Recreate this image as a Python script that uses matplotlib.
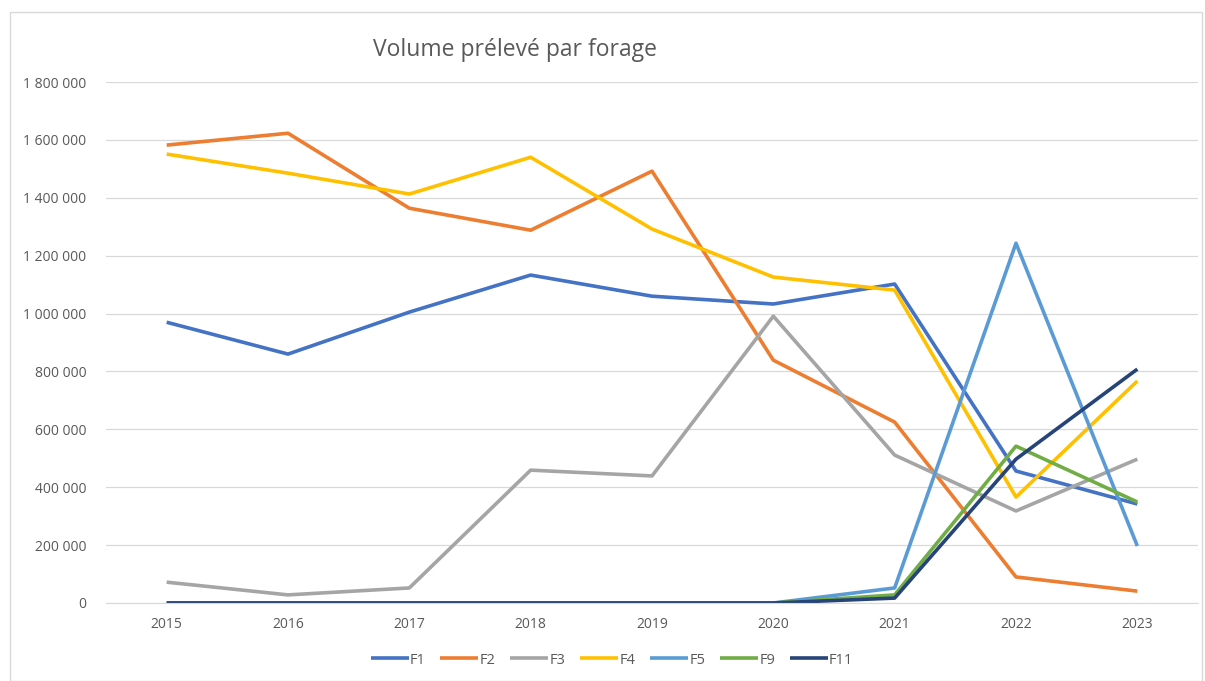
import matplotlib
matplotlib.use("Agg")
import matplotlib.pyplot as plt
import matplotlib.patches as patches
from matplotlib.ticker import FuncFormatter

plt.rcParams['font.family'] = ['Open Sans', 'DejaVu Sans']

years = ['2015', '2016', '2017', '2018', '2019', '2020', '2021', '2022', '2023']
f1 = [970000, 860000, 1005000, 1133000, 1060000, 1033000, 1102000, 456000, 342000]
f2 = [1582000, 1623000, 1364000, 1288000, 1492000, 839000, 625000, 90000, 41000]
f3 = [72000, 28000, 52000, 459000, 439000, 991000, 511000, 318000, 497000]
f4 = [1551000, 1485000, 1413000, 1540000, 1292000, 1126000, 1081000, 366000, 767000]
f5 = [0, 0, 0, 0, 0, 0, 52000, 1243000, 197000]
f9 = [0, 0, 0, 0, 0, 0, 28000, 542000, 349000]
f11 = [0, 0, 0, 0, 0, 0, 17000, 497000, 808000]

series = [('F1', f1, '#4472C4'), ('F2', f2, '#ED7D31'), ('F3', f3, '#A5A5A5'),
          ('F4', f4, '#FFC000'), ('F5', f5, '#5B9BD5'), ('F9', f9, '#70AD47'),
          ('F11', f11, '#264478')]

fig = plt.figure(figsize=(12.05, 6.81), dpi=100)
fig.patch.set_facecolor('white')

# chart border
border = patches.Rectangle((10/1205, 0), 1192/1205, 1 - 12/681, transform=fig.transFigure,
                           fill=False, edgecolor='#D9D9D9', linewidth=1)
fig.patches.append(border)

ax = fig.add_axes([106/1205, 1 - 603/681, (1198 - 106)/1205, (603 - 82)/681])

x = list(range(len(years)))
for name, vals, col in series:
    ax.plot(x, vals, color=col, linewidth=2.6, label=name, solid_capstyle='butt')

ax.set_xlim(-0.5, 8.5)
ax.set_ylim(0, 1800000)
ax.set_yticks(range(0, 1800001, 200000))
ax.yaxis.set_major_formatter(FuncFormatter(lambda v, p: f'{int(v):,}'.replace(',', ' ')))
ax.set_xticks(x)
ax.set_xticklabels(years)
ax.grid(axis='y', color='#D9D9D9', linewidth=0.9)
ax.set_axisbelow(True)
for s in ['top', 'right', 'left']:
    ax.spines[s].set_visible(False)
ax.spines['bottom'].set_color('#D9D9D9')
ax.tick_params(axis='both', length=0, labelsize=10, colors='#595959')
ax.tick_params(axis='y', pad=14)
ax.tick_params(axis='x', pad=10)

fig.text(515/1205, 1 - 50/681, 'Volume prélevé par forage', fontsize=16.5, color='#595959',
         ha='center', va='center')

fig.legend(loc='center', bbox_to_anchor=(612/1205, 1 - 660/681), ncol=7, frameon=False,
           fontsize=10.5, labelcolor='#595959', handlelength=2.6, handletextpad=0.1,
           columnspacing=1.0)

fig.savefig('out.png', dpi=100)
